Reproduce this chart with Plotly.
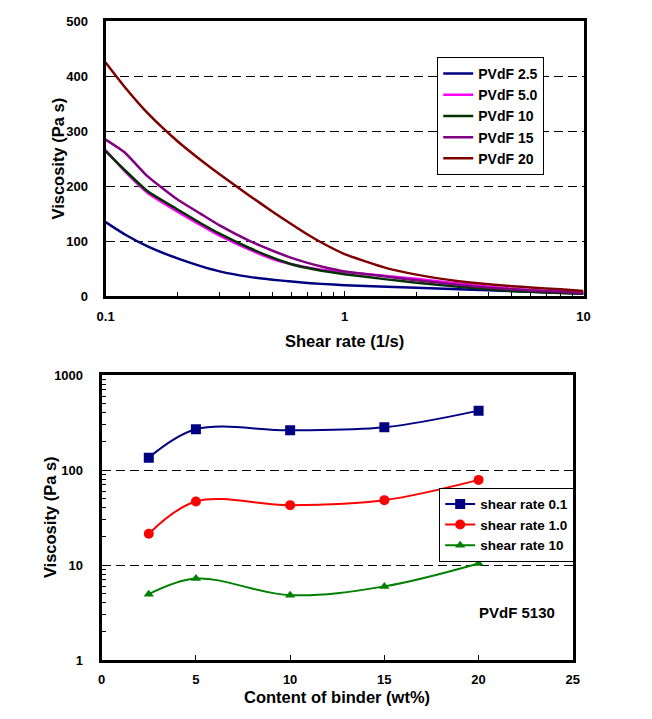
import plotly.graph_objects as go

# ---------------- data: top chart (viscosity vs shear rate) ----------------
shear_rate = [0.1, 0.12, 0.15, 0.2, 0.25, 0.3, 0.4, 0.5, 0.6, 0.7, 0.8, 1.0,
              1.5, 2.0, 3.0, 4.0, 5.0, 6.0, 8.0, 10.0]
pvdf_2_5 = [135, 113, 91, 69, 55, 45.5, 35.5, 30.5, 27, 24.5, 22.8, 20.5,
            17.5, 15.6, 13, 11.2, 9.7, 8.5, 6.5, 4.9]
pvdf_5_0 = [266, 228, 188, 154, 129.5, 110.5, 85, 68, 58.5, 52.5, 48.5, 44.5,
            37, 32, 23.5, 17.8, 14, 11.5, 8.8, 7.2]
pvdf_10 = [264, 230, 191, 158, 133, 114, 88, 70.5, 58.5, 51.5, 46.5, 40.5,
           31, 25, 17.5, 13, 10, 8.3, 6.2, 4.8]
pvdf_15 = [285, 262, 218, 176, 150, 129, 101, 83, 70, 61, 54.5, 45.5,
           36, 29.5, 21, 16, 13, 11, 8.3, 6]
pvdf_20 = [425, 381, 333, 282, 248, 222, 183, 154, 131, 112.5, 98, 77,
           51.5, 39.6, 27.7, 22.2, 18.7, 16.3, 12.9, 10]
top_names = ["PVdF 2.5", "PVdF 5.0", "PVdF 10", "PVdF 15", "PVdF 20"]
top_series = [pvdf_2_5, pvdf_5_0, pvdf_10, pvdf_15, pvdf_20]
top_colors = ["#000080", "#FF00FF", "#003300", "#800080", "#800000"]

# ---------------- data: bottom chart (viscosity vs binder content) ----------------
binder = [2.5, 5, 10, 15, 20]
rate_0_1 = [135, 269, 263, 282, 423]
rate_1_0 = [21.4, 46.8, 42.8, 48.3, 78.9]
rate_10 = [4.94, 7.22, 4.83, 5.97, 10.4]
bot_names = ["shear rate 0.1", "shear rate 1.0", "shear rate 10"]
bot_series = [rate_0_1, rate_1_0, rate_10]
bot_colors = ["#000080", "#FF0000", "#008000"]
bot_symbols = ["square", "circle", "triangle-up"]
bot_sizes = [10, 10, 9]

top_x_ticks = [0.1, 1, 10]
top_x_minor = [0.2, 0.3, 0.4, 0.5, 0.6, 0.7, 0.8, 0.9, 2, 3, 4, 5, 6, 7, 8, 9]
bot_y_ticks = [1, 10, 100, 1000]
bot_y_minor = [m * d for d in (1, 10, 100) for m in range(2, 10)]

FONT = "Liberation Sans, Arial, sans-serif"
W, H = 652, 719

fig = go.Figure()

for name, ys, col in zip(top_names, top_series, top_colors):
    fig.add_trace(go.Scatter(
        x=shear_rate, y=ys, name=name, mode="lines",
        line=dict(color=col, width=2.5, shape="spline", smoothing=0.5),
        xaxis="x", yaxis="y", legend="legend"))

for name, ys, col, sym, sz in zip(bot_names, bot_series, bot_colors, bot_symbols, bot_sizes):
    fig.add_trace(go.Scatter(
        x=binder, y=ys, name=name, mode="lines+markers",
        line=dict(color=col, width=2, shape="spline", smoothing=1.0),
        marker=dict(color=col, symbol=sym, size=sz),
        xaxis="x2", yaxis="y2", legend="legend2"))

def px_x(p):
    return p / W

def px_y(p):
    return 1 - p / H

tickfont = dict(family=FONT, size=13, color="black", weight="bold")
frame = dict(showline=True, linecolor="black", linewidth=3, mirror=True)

fig.update_layout(
    width=W, height=H,
    margin=dict(l=0, r=0, t=0, b=0),
    paper_bgcolor="white", plot_bgcolor="white",
    font=dict(family=FONT, color="black"),
    xaxis=dict(domain=[px_x(99), px_x(589)], anchor="y", type="log",
               range=[-1, 1], tickvals=top_x_ticks,
               ticktext=[str(v) for v in top_x_ticks],
               ticks="inside", ticklen=5, tickwidth=1, tickcolor="black",
               minor=dict(tickmode="array", tickvals=top_x_minor, ticks="inside",
                          ticklen=4, tickcolor="black", showgrid=False),
               showgrid=False, zeroline=False, tickfont=tickfont,
               ticklabelstandoff=6, **frame),
    yaxis=dict(domain=[px_y(295.6), px_y(14.5)], anchor="x",
               range=[0, 500], dtick=100, ticks="",
               showgrid=True, gridcolor="black", gridwidth=1, griddash="9px,5px",
               zeroline=False, tickfont=tickfont, ticklabelstandoff=12, **frame),
    xaxis2=dict(domain=[px_x(95), px_x(578)], anchor="y2",
                range=[0, 25], dtick=5, ticks="inside", ticklen=5, tickcolor="black",
                showgrid=False, zeroline=False, tickfont=tickfont,
                ticklabelstandoff=5, **frame),
    yaxis2=dict(domain=[px_y(667), px_y(376)], anchor="x2", type="log",
                range=[0, 3], tickvals=bot_y_ticks,
                ticktext=[str(v) for v in bot_y_ticks],
                ticks="", minor=dict(tickmode="array", tickvals=bot_y_minor,
                                     ticks="inside", ticklen=4, tickcolor="black",
                                     showgrid=False),
                showgrid=True, gridcolor="black", gridwidth=1, griddash="9px,5px",
                zeroline=False, tickfont=tickfont, ticklabelstandoff=13, **frame),
    legend=dict(x=px_x(439), y=px_y(51), xanchor="left", yanchor="top",
                bgcolor="white", bordercolor="black", borderwidth=1,
                font=dict(family=FONT, size=14, color="black", weight="bold"),
                itemwidth=30, tracegroupgap=0),
    legend2=dict(x=px_x(441), y=px_y(491), xanchor="left", yanchor="top",
                 bgcolor="white", bordercolor="black", borderwidth=1,
                 font=dict(family=FONT, size=13.5, color="black", weight="bold"),
                 itemwidth=30, tracegroupgap=0),
    showlegend=True,
)

xtitle_font = dict(family=FONT, size=16.5, color="black", weight="bold")
ytitle_font = dict(family=FONT, size=16.5, color="black", weight="bold")
fig.add_annotation(text="Viscosity (Pa s)", xref="paper", yref="paper",
                   x=px_x(50), y=px_y(155), textangle=-90, showarrow=False,
                   font=ytitle_font, xanchor="center", yanchor="middle")
fig.add_annotation(text="Shear rate (1/s)", xref="paper", yref="paper",
                   x=px_x(344), y=px_y(341), showarrow=False,
                   font=xtitle_font, xanchor="center", yanchor="middle")
fig.add_annotation(text="Viscosity (Pa s)", xref="paper", yref="paper",
                   x=px_x(42), y=px_y(521), textangle=-90, showarrow=False,
                   font=ytitle_font, xanchor="center", yanchor="middle")
fig.add_annotation(text="Content of binder (wt%)", xref="paper", yref="paper",
                   x=px_x(336), y=px_y(705), showarrow=False,
                   font=xtitle_font, xanchor="center", yanchor="middle")
fig.add_annotation(text="PVdF 5130", xref="paper", yref="paper",
                   x=px_x(521), y=px_y(618), showarrow=False,
                   font=dict(family=FONT, size=15, color="black", weight="bold"),
                   xanchor="center", yanchor="middle")

fig.write_html("out.html")
